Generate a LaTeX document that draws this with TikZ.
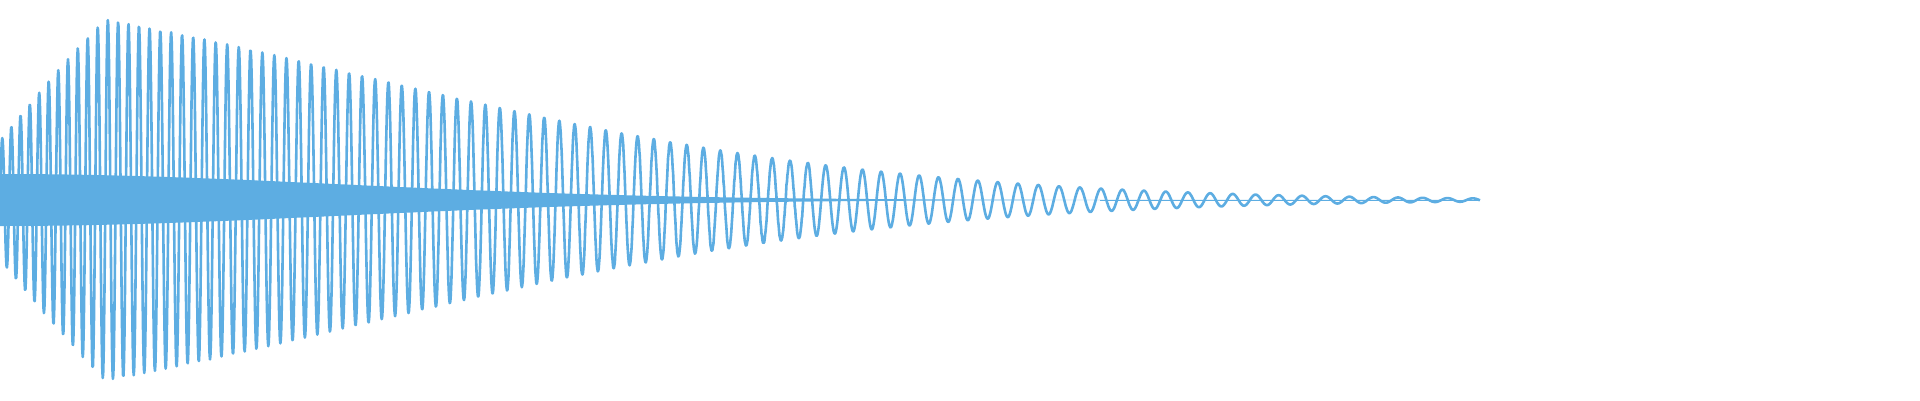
\documentclass[tikz,border=0pt]{standalone}
\usepackage{tikz}
\definecolor{wave}{RGB}{93,173,226}
\begin{document}
\begin{tikzpicture}[x=1pt,y=1pt]
\useasboundingbox (0,0) rectangle (1920,400);
% envelope and chirped oscillation
\tikzset{envfun/.style={declare function={
  env(\t)=175*exp(-(\t-135)/900-((\t-135)/750)^2)*min(1,0.3+\t/150);
  band(\t)=26*exp(-(\t/480)^2);
  ph(\t)=360*mod(90*ln(1+\t/810),1);}}}
\begin{scope}[envfun]
\fill[wave] plot[domain=0:1480,samples=200] (\x,{200+band(\x)})
  -- plot[domain=1480:0,samples=200] (\x,{200-band(\x)}) -- cycle;
\draw[wave, line width=2.6pt, line join=round] plot[domain=0:1480,samples=3200]
  (\x,{200+env(\x)*sin(ph(\x))});
\draw[wave, line width=0.6pt] (1100,200) -- (1480,200);
\end{scope}
\end{tikzpicture}
\end{document}
